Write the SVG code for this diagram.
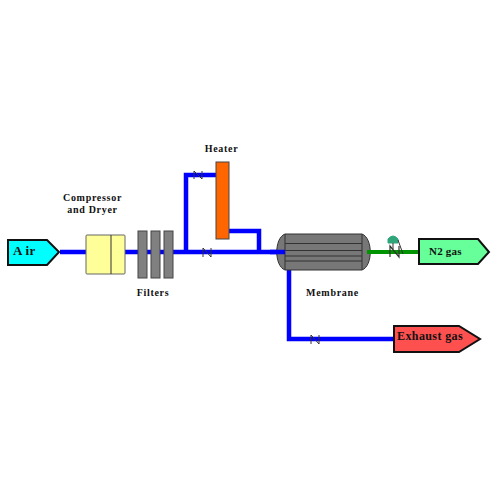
<svg xmlns="http://www.w3.org/2000/svg" width="500" height="500" viewBox="0 0 500 500">
<style>
text{font-family:"Liberation Serif",serif;font-weight:bold;fill:#111;font-size:10px}
.p{fill:none;stroke:#0000ff;stroke-width:4.5}
.v{fill:none;stroke:#333;stroke-width:1}
.s{stroke:#111;stroke-width:2}
.f{fill:#808080;stroke:#444;stroke-width:1}
.l{stroke:#333;stroke-width:1;fill:none}
</style>
<rect width="500" height="500" fill="#fff"/>
<g id="connectors">
<path class="p" d="M60 252H285"/>
<path class="p" d="M186 252V175H216"/>
<path class="p" d="M229 231H259V252"/>
<path class="p" d="M289 268V339H394"/>
<path class="v" d="M194 179V171L202 179V171"/>
<path class="v" d="M203 257V248L211 257V248"/>
<path class="v" d="M311 344V335L319 344V335"/>
</g>
<g id="air"><path class="s" d="M8 240H47L59 252L47 265H8Z" fill="#00ffff"/><text x="13" y="255" style="font-size:13px;letter-spacing:.3px">A ir</text></g>
<g id="compressor"><rect x="86" y="235" width="39" height="39" rx="1" fill="#ffff99" stroke="#666"/><path class="l" d="M111 235V274"/><text x="92.500" y="201" text-anchor="middle" style="letter-spacing:.7px">Compressor</text><text x="92.500" y="213" text-anchor="middle" style="letter-spacing:.7px">and Dryer</text></g>
<g id="filters"><rect class="f" x="138" y="231" width="9" height="47"/><rect class="f" x="151" y="231" width="9" height="47"/><rect class="f" x="164" y="231" width="9" height="47"/><text x="153" y="296" text-anchor="middle" style="letter-spacing:.7px">Filters</text></g>
<g id="heater"><rect x="216" y="162" width="13" height="77" fill="#ff6600" stroke="#444"/><text x="221.500" y="152" text-anchor="middle" style="letter-spacing:.7px">Heater</text></g>
<g id="membrane"><path d="M285 234H362C373 238 373 266 362 270H285C274 266 274 238 285 234Z" fill="#777" stroke="#333"/><path class="l" d="M285 234V270M362 234V270M285 243.500H362M285 250.500H362M285 256H362M285 261H362"/><path d="M270 252H285" stroke="#0000ff" stroke-width="4.500"/><path d="M367 252H418" fill="none" stroke="#009400" stroke-width="4"/><text x="332.500" y="296" text-anchor="middle" style="letter-spacing:.7px">Membrane</text></g>
<g id="check-valve"><path d="M388 243V239Q393 233 398 239V243Z" fill="#2fa57a" stroke="#2fa57a"/><path class="l" d="M393 243V249M398 240L403 254"/><path d="M390 257V246L399 257V246" fill="none" stroke="#333" stroke-width="1.200"/></g>
<g id="n2-gas"><path class="s" d="M419 239H478L489 252L478 264H419Z" fill="#66ff99"/><text x="429" y="255" style="font-size:11px;letter-spacing:.2px">N2 gas</text></g>
<g id="exhaust-gas"><path class="s" d="M394 326H459L480 339L459 352H394Z" fill="#ff5050"/><text x="397" y="340" style="font-size:12px;letter-spacing:.4px">Exhaust gas</text></g>
</svg>
